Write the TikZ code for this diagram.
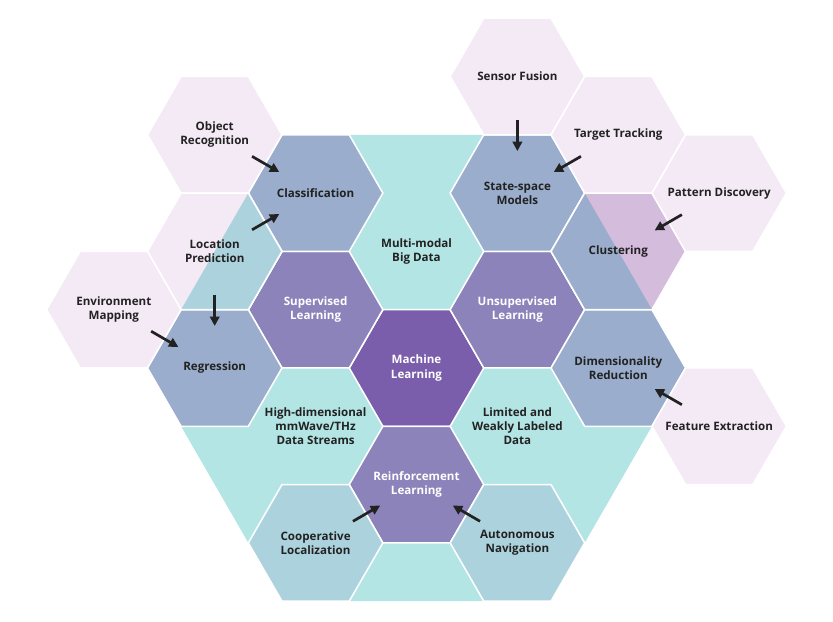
\documentclass[tikz,border=0pt]{standalone}
\usepackage{fontspec}
\IfFontExistsTF{Open Sans SemiBold}
  {\setmainfont{Open Sans}[BoldFont={Open Sans SemiBold}]}
  {\setmainfont{Open Sans}}
\usepackage{tikz}
\usetikzlibrary{
  arrows.meta,
  calc
}
\usepackage{xcolor}
\definecolor{bgcyan}{HTML}{B3E5E4}
\definecolor{slateblue}{HTML}{9AADCC}
\definecolor{midpurple}{HTML}{8C83BA}
\definecolor{deeppurple}{HTML}{7A5DAB}
\definecolor{paleblue}{HTML}{ACD3DD}
\definecolor{palepink}{HTML}{F4EAF6}
\definecolor{mauve}{HTML}{D4BCDD}
\definecolor{inkdark}{HTML}{222222}

\begin{document}
\begin{tikzpicture}[
  x=3.027cm, y=-1.749cm,
  hexcell/.style={draw=white, line width=1.3pt, line join=miter},
  txt/.style={font=\fontsize{9.9}{12}\selectfont\bfseries, text=inkdark, align=center, inner sep=0pt},
  txtw/.style={txt, text=white},
  arr/.style={-{Triangle[length=8pt, width=8pt]}, line width=2.3pt, draw=inkdark},
]
\useasboundingbox (-4.128,-6.312) rectangle (4.128,4.357);

% --- Background hexagon ---
\fill[bgcyan] (8/3,0) -- (4/3,4) -- (-4/3,4) -- (-8/3,0) -- (-4/3,-4) -- (4/3,-4) -- cycle;

% --- Hexagon cells ---
\foreach \x/\y/\c in {0/0/deeppurple, -1/-1/midpurple, 1/-1/midpurple, 0/2/midpurple,
  -1/-3/slateblue, 1/-3/slateblue, -2/0/slateblue, 2/0/slateblue, 2/-2/mauve,
  -1/3/paleblue, 1/3/paleblue,
  -2/-4/palepink, -2/-2/palepink, -3/-1/palepink, 1/-5/palepink, 2/-4/palepink, 3/-3/palepink, 3/1/palepink}{
  \filldraw[hexcell, fill=\c] (\x,\y) +(2/3,0) -- +(1/3,1) -- +(-1/3,1) -- +(-2/3,0) -- +(-1/3,-1) -- +(1/3,-1) -- cycle;
}

% --- Cells cut by the background edge ---
\begin{scope}
  \clip (8/3,0) -- (4/3,4) -- (-4/3,4) -- (-8/3,0) -- (-4/3,-4) -- (4/3,-4) -- cycle;
  \foreach \x/\y/\c in {-2/-2/paleblue, 2/-2/slateblue}{
    \filldraw[hexcell, fill=\c] (\x,\y) +(2/3,0) -- +(1/3,1) -- +(-1/3,1) -- +(-2/3,0) -- +(-1/3,-1) -- +(1/3,-1) -- cycle;
  }
\end{scope}

% --- Labels ---
\foreach \n/\x/\y/\s/\t in {
  ml/0/0/txtw/{Machine\\Learning},
  supervised/-1/-1/txtw/{Supervised\\Learning},
  unsupervised/1/-1/txtw/{Unsupervised\\Learning},
  reinforcement/0/2/txtw/{Reinforcement\\Learning},
  multimodal/0/-2/txt/{Multi-modal\\Big Data},
  highdim/-1/1/txt/{High-dimensional\\mmWave/THz\\Data Streams},
  limited/1/1/txt/{Limited and\\Weakly Labeled\\Data},
  classif/-1/-3/txt/{Classification},
  statespace/1/-3/txt/{State-space\\Models},
  regression/-2/0/txt/{Regression},
  dimred/2/0/txt/{Dimensionality\\Reduction},
  clustering/2/-2/txt/{Clustering},
  coop/-1/3/txt/{Cooperative\\Localization},
  auto/1/3/txt/{Autonomous\\Navigation},
  objrec/-2/-4/txt/{Object\\Recognition},
  locpred/-2/-2/txt/{Location\\Prediction},
  envmap/-3/-1/txt/{Environment\\Mapping},
  sensor/1/-5/txt/{Sensor Fusion},
  tracking/2/-4/txt/{Target Tracking},
  pattern/3/-3/txt/{Pattern Discovery},
  featext/3/1/txt/{Feature Extraction}}{
  \node[\s] (\n) at (\x,\y) {\t};
}

% --- Arrows ---
\foreach \a/\b in {objrec/classif, locpred/classif, locpred/regression, envmap/regression,
  sensor/statespace, tracking/statespace, pattern/clustering, featext/dimred,
  coop/reinforcement, auto/reinforcement}{
  \draw[arr] ($(\a)!0.37!(\b)$) -- ($(\a)!0.64!(\b)$);
}
\end{tikzpicture}
\end{document}
